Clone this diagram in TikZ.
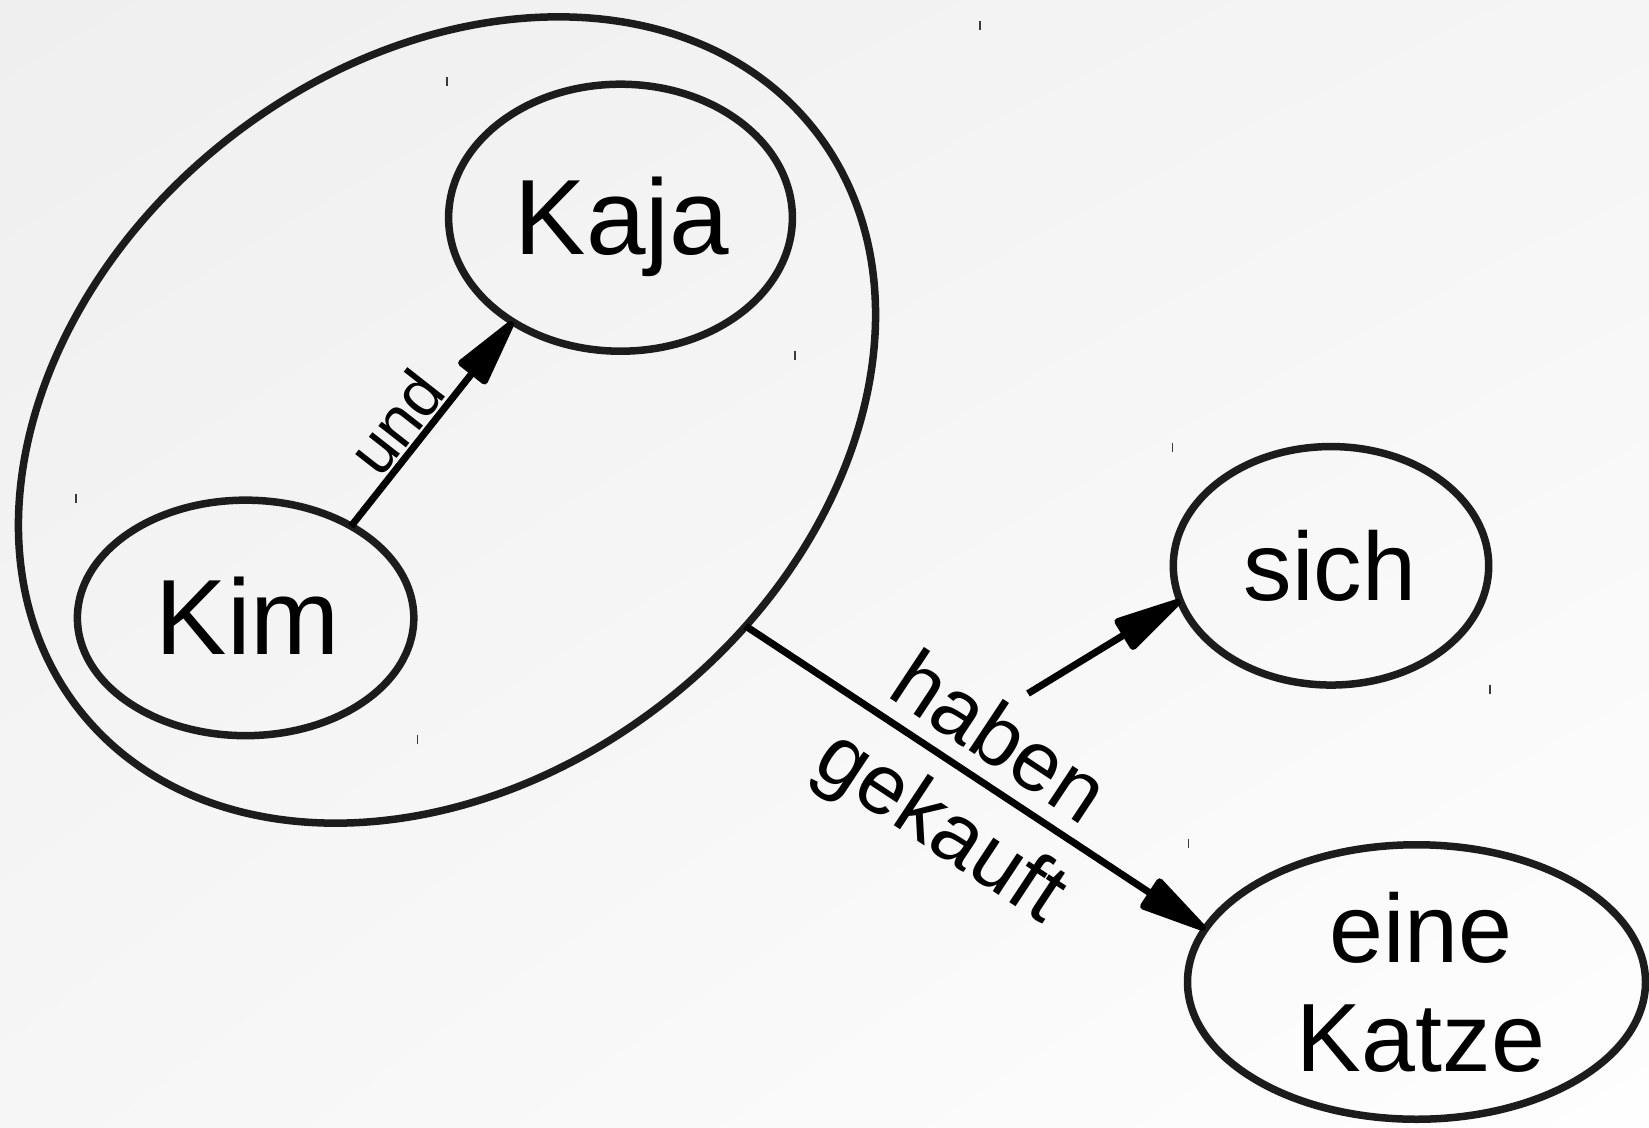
\documentclass[tikz,border=0pt]{standalone}
\usepackage{fontspec}
\setmainfont{Liberation Sans}
\usetikzlibrary{shapes.geometric,arrows.meta,shadings}
\definecolor{ink}{HTML}{1C1C1C}
\definecolor{tickc}{HTML}{3A3A3A}
\definecolor{bgA}{HTML}{EFEFEF}
\definecolor{bgB}{HTML}{F5F5F5}
\definecolor{bgC}{HTML}{F6F6F6}
\definecolor{bgD}{HTML}{FEFEFE}
\begin{document}
\begin{tikzpicture}[x=1pt,y=-1pt,
  ell/.style={ellipse, draw=ink, line width=7.5pt, inner sep=0pt, outer sep=0pt},
  conn/.style={line width=7pt, draw=black, line join=round,
    -{Triangle[length=80pt,width=36pt,round]}},
  bigtext/.style={font=\fontsize{107}{120}\selectfont, inner sep=0pt, anchor=base},
  midtext/.style={font=\fontsize{97}{110}\selectfont, inner sep=0pt, anchor=base},
  lbl/.style={inner sep=0pt, outer sep=0pt},
  tickmark/.style={draw=tickc, line width=1.4pt}]
\useasboundingbox (0,0) rectangle (1649,1127);
\shade[upper left=bgA, upper right=bgB, lower left=bgC, lower right=bgD] (0,0) rectangle (1649,1127);

% tick marks
\foreach \x/\y in {980/25, 447/81.5, 795/355, 76/498, 417.5/739, 1172.6/447, 1490/689, 1188.4/843}
  \draw[tickmark] (\x,\y-4.5) -- (\x,\y+4.5);

% cluster ellipse
\node[ell, rotate=38.4, minimum width=936.5pt, minimum height=712.5pt] (big) at (447,420) {};

% nodes
\node[ell, minimum width=343.8pt, minimum height=267pt] (kaja) at (620.5,217.7) {};
\node[ell, minimum width=336.4pt, minimum height=235.5pt] (kim) at (245.6,617.9) {};
\node[ell, minimum width=315.4pt, minimum height=238.5pt] (sich) at (1331,565.8) {};
\node[ell, minimum width=458pt, minimum height=274.5pt] (katze) at (1416.5,982) {};

% node texts
\node[bigtext] (kajat) at (622,254.5) {Kaja};
\node[bigtext] (kimt) at (248,654) {Kim};
\node[midtext] (sicht) at (1330,600) {sich};
\node[midtext] (einet) at (1421,962) {eine};
\node[midtext] (katzet) at (1421,1071) {Katze};

% connectors
\draw[conn] (kim.41.8) -- (kaja.224);
\draw[conn] (big.-73.2) -- (katze.166);
\coordinate (sichstart) at (1028,693.5);
\draw[conn] (sichstart) -- (sich.193.7);

% labels
\node[lbl, anchor=south, rotate=51.9, font=\fontsize{66}{75}\selectfont] (und) at (415,437) {und};
\node[lbl, anchor=center, rotate=-33.5, align=center, font=\fontsize{85}{104}\selectfont] (hg) at (967.5,786) {haben\\gekauft};
\end{tikzpicture}
\end{document}
